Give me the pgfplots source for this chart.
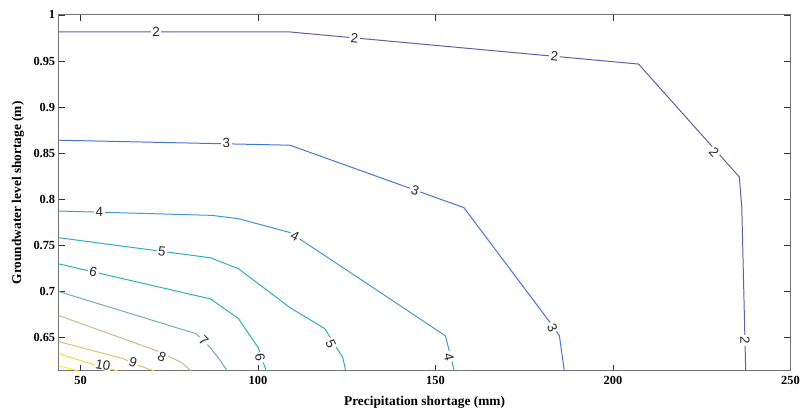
\documentclass[border=0pt]{standalone}
\usepackage{fontspec}
\setmainfont{Liberation Serif}
\setsansfont{Liberation Sans}
\usepackage{pgfplots}
\pgfplotsset{compat=1.18}
\definecolor{c2}{RGB}{95,95,165}
\definecolor{c3}{RGB}{70,115,215}
\definecolor{c4}{RGB}{65,150,220}
\definecolor{c5}{RGB}{45,172,205}
\definecolor{c6}{RGB}{40,182,170}
\definecolor{c7}{RGB}{110,182,152}
\definecolor{c8}{RGB}{205,185,135}
\definecolor{c9}{RGB}{218,195,112}
\definecolor{c10}{RGB}{230,220,65}
\definecolor{c11}{RGB}{242,240,35}
\tikzset{lab/.style={fill=white, inner sep=1.6pt, text=black!85, font=\sffamily\fontsize{13.5}{14}\selectfont}}
\begin{document}
\begin{tikzpicture}
\begin{axis}[
  scale only axis, width=736bp, height=358bp,
  xmin=43.84, xmax=250, ymin=0.614, ymax=1,
  xtick={50,100,150,200,250},
  xticklabels={50,100,150,200,250},
  ytick={0.65,0.7,0.75,0.8,0.85,0.9,0.95,1},
  yticklabels={0.65,0.7,0.75,0.8,0.85,0.9,0.95,1},
  tick align=inside, major tick length=6bp,
  axis line style={draw=black!55, line width=1.1pt},
  tick style={black!80, line width=0.6pt},
  /pgf/number format/assume math mode=true,
  tick label style={font=\bfseries\fontsize{12.5}{13}\selectfont},
  xticklabel style={yshift=-2bp},
  label style={font=\bfseries\fontsize{13.5}{15}\selectfont},
  xlabel={Precipitation shortage (mm)},
  ylabel={Groundwater level shortage (m)},
  xlabel style={at={(axis description cs:0.5,-0.0894)}, anchor=center},
  ylabel style={at={(axis description cs:-0.0557,0.5)}, anchor=center},
]
\addplot[c2, line width=1pt] coordinates {(43.84,0.9815)(109,0.9815)(207.2,0.9467)(235.6,0.8243)(236.3,0.7917)(237.4,0.614)};
\addplot[c3, line width=1pt] coordinates {(43.84,0.8641)(109,0.8587)(158.0,0.791)(182.1,0.6674)(184.9,0.6522)(186.3,0.614)};
\addplot[c4, line width=1pt] coordinates {(43.84,0.7873)(87.0,0.7826)(94.5,0.779)(109,0.764)(133.7,0.701)(152.8,0.652)(155.3,0.614)};
\addplot[c5, line width=1pt] coordinates {(43.84,0.7584)(86.6,0.7366)(94.5,0.7247)(109,0.6826)(118.8,0.6598)(123.9,0.6283)(124.7,0.614)};
\addplot[c6, line width=1pt] coordinates {(43.84,0.730)(86.6,0.692)(94.5,0.6707)(98.1,0.650)(100.1,0.639)(101.3,0.625)(102.3,0.614)};
\addplot[c7, line width=1pt] coordinates {(43.84,0.700)(82.5,0.6543)(86.6,0.639)(89.4,0.625)(91.3,0.614)};
\addplot[c8, line width=1pt] coordinates {(43.84,0.674)(71.3,0.636)(78.5,0.623)(81.1,0.614)};
\addplot[c9, line width=1pt] coordinates {(43.84,0.6457)(62.0,0.6272)(66.5,0.6196)(70.7,0.614)};
\addplot[c10, line width=1pt] coordinates {(43.84,0.6326)(52.0,0.6228)(60.4,0.614)};
\addplot[c11, line width=1pt] coordinates {(43.84,0.6196)(49.2,0.614)};
% contour labels
\node[lab] at (axis cs:71.3,0.9815) {2};
\node[lab, rotate=-5] at (axis cs:127.2,0.9745) {2};
\node[lab, rotate=-5] at (axis cs:183.5,0.9555) {2};
\node[lab, rotate=-48] at (axis cs:228.5,0.851) {2};
\node[lab, rotate=-90] at (axis cs:237.2,0.6467) {2};
\node[lab] at (axis cs:91.1,0.8607) {3};
\node[lab, rotate=-19.5] at (axis cs:144.3,0.8102) {3};
\node[lab, rotate=-65] at (axis cs:182.9,0.661) {3};
\node[lab] at (axis cs:55.3,0.7864) {4};
\node[lab, rotate=-27] at (axis cs:110.4,0.7598) {4};
\node[lab, rotate=-77] at (axis cs:153.8,0.6293) {4};
\node[lab, rotate=-7.5] at (axis cs:72.9,0.7436) {5};
\node[lab, rotate=-65] at (axis cs:120.5,0.6435) {5};
\node[lab, rotate=-13] at (axis cs:53.6,0.7212) {6};
\node[lab, rotate=-80] at (axis cs:100.6,0.6283) {6};
\node[lab, rotate=-43] at (axis cs:84.7,0.6467) {7};
\node[lab, rotate=-25] at (axis cs:72.9,0.6293) {8};
\node[lab, rotate=-18] at (axis cs:64.8,0.6235) {9};
\node[lab, inner sep=0.6pt, rotate=-10] at (axis cs:56.3,0.6205) {10};
\coordinate (bbl) at (rel axis cs:-0.0802,-0.1173);
\coordinate (btr) at (rel axis cs:1.0109,1.0419);
\end{axis}
\path (bbl) rectangle (btr);
\end{tikzpicture}
\end{document}
